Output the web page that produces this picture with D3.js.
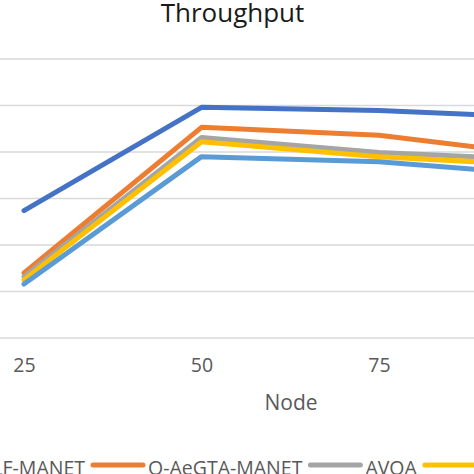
<!DOCTYPE html>
<html>
<head>
<meta charset="utf-8">
<script src="https://cdn.jsdelivr.net/npm/d3@7"></script>
<style>
  html, body { margin: 0; padding: 0; background: #fff; overflow: hidden; }
  svg { display: block; }
  text { font-family: "Open Sans", "Noto Sans", sans-serif; }
</style>
</head>
<body>
<svg id="chart" width="474" height="474"></svg>
<script>
// ---- data ----
const nodes = [25, 50, 75, 100];
const seriesNames = ["LF-MANET", "O-AeGTA-MANET", "AVOA", "Series 4", "Series 5"];
const seriesLF = [274, 496, 489, 473];
const seriesOAeGTA = [140, 453, 436, 390];
const seriesAVOA = [132, 431, 399, 382];
const series4 = [125, 422, 390, 370];
const series5 = [116, 390, 379, 349];
const yTicks = [0, 100, 200, 300, 400, 500, 600];
const colors = ["#4472C4", "#ED7D31", "#A5A5A5", "#FFC000", "#5B9BD5"];

const allSeries = [seriesLF, seriesOAeGTA, seriesAVOA, series4, series5];

const svg = d3.select("#chart");

// scales (plot area extends beyond the visible crop)
const x = d3.scalePoint().domain(nodes).range([24, 556.5]);
const y = d3.scaleLinear().domain([0, 600]).range([338, 59]);

// gridlines
svg.append("g").selectAll("line").data(yTicks).join("line")
  .attr("x1", -200).attr("x2", 700)
  .attr("y1", d => y(d)).attr("y2", d => y(d))
  .attr("stroke", "#d9d9d9").attr("stroke-width", 1.5);

// lines
const line = d3.line().x((d, i) => x(nodes[i])).y(d => y(d));
svg.append("g").selectAll("path").data(allSeries).join("path")
  .attr("d", d => line(d))
  .attr("fill", "none")
  .attr("stroke", (d, i) => colors[i])
  .attr("stroke-width", 5)
  .attr("stroke-linecap", "round")
  .attr("stroke-linejoin", "round");

// x axis tick labels
const xAxis = d3.axisBottom(x).tickSize(0).tickPadding(0);
const gx = svg.append("g").attr("transform", "translate(0,358)").call(xAxis);
gx.select(".domain").remove();
gx.selectAll("text")
  .attr("dy", "0.71em")
  .attr("font-family", "'Open Sans', sans-serif")
  .attr("font-size", 19.5)
  .attr("fill", "#595959");

// title
svg.append("text").attr("x", 232.5).attr("y", 22)
  .attr("text-anchor", "middle")
  .attr("font-size", 26).attr("fill", "#1a1a1a")
  .text("Throughput");

// x axis title
svg.append("text").attr("x", 291).attr("y", 410)
  .attr("text-anchor", "middle")
  .attr("font-size", 21).attr("fill", "#595959")
  .text("Node");

// legend
const legend = svg.append("g");
let cursor = 85; // end of first legend label
const legendY = 465;
const baseY = 475;
const legendFont = 19.5;
// first label right-aligned so its start is cut off
legend.append("text").attr("x", cursor).attr("y", baseY)
  .attr("text-anchor", "end").attr("font-size", legendFont).attr("fill", "#595959")
  .text(seriesNames[0]);
for (let i = 1; i < seriesNames.length; i++) {
  const x1 = cursor + 8, x2 = x1 + 50;
  legend.append("line").attr("x1", x1).attr("x2", x2)
    .attr("y1", legendY).attr("y2", legendY)
    .attr("stroke", colors[i]).attr("stroke-width", 5).attr("stroke-linecap", "round");
  const t = legend.append("text").attr("x", x2 + 5).attr("y", baseY)
    .attr("font-size", legendFont).attr("fill", "#595959")
    .text(seriesNames[i]);
  cursor = x2 + 5 + t.node().getComputedTextLength();
}
</script>
</body>
</html>
